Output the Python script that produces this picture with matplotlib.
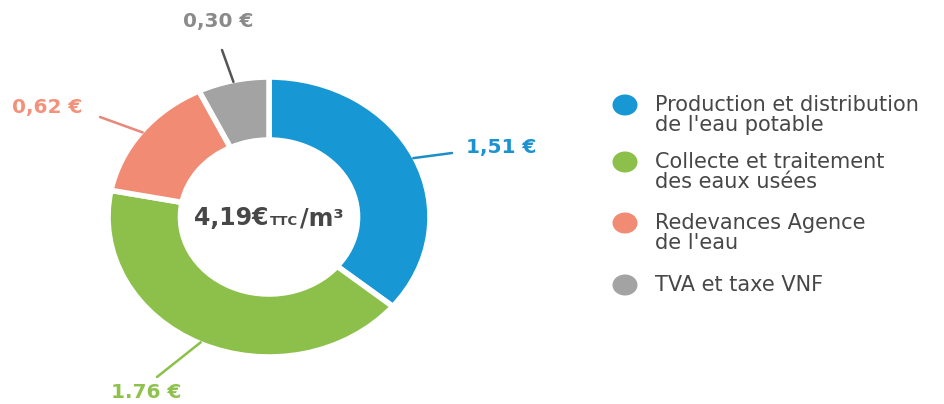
import matplotlib
matplotlib.use("Agg")
import matplotlib.pyplot as plt
from matplotlib.patches import Ellipse
import numpy as np

# ---- data ----
categories = ["Production et distribution\nde l'eau potable",
              "Collecte et traitement\ndes eaux usées",
              "Redevances Agence\nde l'eau",
              "TVA et taxe VNF"]
values = [1.51, 1.76, 0.62, 0.30]
value_labels = ["1,51 €", "1.76 €", "0,62 €", "0,30 €"]
total_main = "4,19€"
total_unit_small = "TTC"
total_unit = "/m³"

slice_colors = ["#1797d4", "#8cc04b", "#f28b74", "#a3a3a3"]
label_colors = ["#1b93d0", "#8fc24c", "#f3917b", "#8a8a8a"]
line_colors = ["#1d8ec8", "#8dc04b", "#e8877a", "#555555"]
text_color = "#474747"

W, H = 944, 404
fig = plt.figure(figsize=(W / 100, H / 100), dpi=100)
fig.patch.set_facecolor("white")

# pie geometry (pixel space)
cx, cy = 269, 217
ux, uy = 161, 140
hw, hh = 260, 215
ax = fig.add_axes([(cx - hw) / W, (H - cy - hh) / H, 2 * hw / W, 2 * hh / H])
wedges, _ = ax.pie(values, colors=slice_colors, startangle=90, counterclock=False,
                   radius=1.0,
                   wedgeprops=dict(width=0.45, edgecolor="white", linewidth=4))
ax.set_aspect("auto")
ax.set_xlim(-hw / ux, hw / ux)
ax.set_ylim(-hh / uy, hh / uy)
ax.axis("off")

# overlay axes in pixel coordinates
ov = fig.add_axes([0, 0, 1, 1])
ov.set_xlim(0, W)
ov.set_ylim(H, 0)
ov.axis("off")

def to_px(theta_deg, r):
    t = np.deg2rad(theta_deg)
    return cx + ux * r * np.cos(t), cy - uy * r * np.sin(t)

# label layout (pixels): line end, text position, alignment
line_ends = [(452, 153), (157, 377), (100, 117), (222, 50)]
text_pos = [(466, 148), (146, 392), (47, 107), (218, 22)]
text_ha = ["left", "center", "center", "center"]

for w, lab, lc, tc, le, tp, ha in zip(wedges, value_labels, line_colors, label_colors,
                                      line_ends, text_pos, text_ha):
    mid = (w.theta1 + w.theta2) / 2
    sx, sy = to_px(mid, 0.99)
    ov.plot([sx, le[0]], [sy, le[1]], color=lc, lw=1.8, solid_capstyle="round")
    ov.text(tp[0], tp[1], lab, color=tc, fontsize=14.5, fontweight="bold",
            ha=ha, va="center")

# centre text
t1 = ov.text(0, cy, total_main, fontsize=17, fontweight="bold", color=text_color,
             ha="left", va="baseline")
t2 = ov.text(0, cy, total_unit_small, fontsize=9.5, fontweight="bold", color=text_color,
             ha="left", va="baseline")
t3 = ov.text(0, cy, total_unit, fontsize=17, fontweight="bold", color=text_color,
             ha="left", va="baseline")
r = fig.canvas.get_renderer()
ws = [t.get_window_extent(r).width for t in (t1, t2, t3)]
gap = 1.5
total_w = sum(ws) + 2 * gap
x0 = cx - total_w / 2
base = cy + 8
t1.set_position((x0, base))
t2.set_position((x0 + ws[0] + gap, base))
t3.set_position((x0 + ws[0] + ws[1] + 2 * gap, base))

# legend
leg_fs = 15
line_px = 20
leg_marker_y = [105, 162, 223, 285]
for y, col, lab in zip(leg_marker_y, slice_colors, categories):
    ov.add_patch(Ellipse((625, y), 25, 21, facecolor=col, edgecolor="none"))
    for i, line in enumerate(lab.split("\n")):
        ov.text(655, y + 6 + i * line_px, line, fontsize=leg_fs, color=text_color,
                ha="left", va="baseline")

fig.savefig("out.png", dpi=100, facecolor="white")
